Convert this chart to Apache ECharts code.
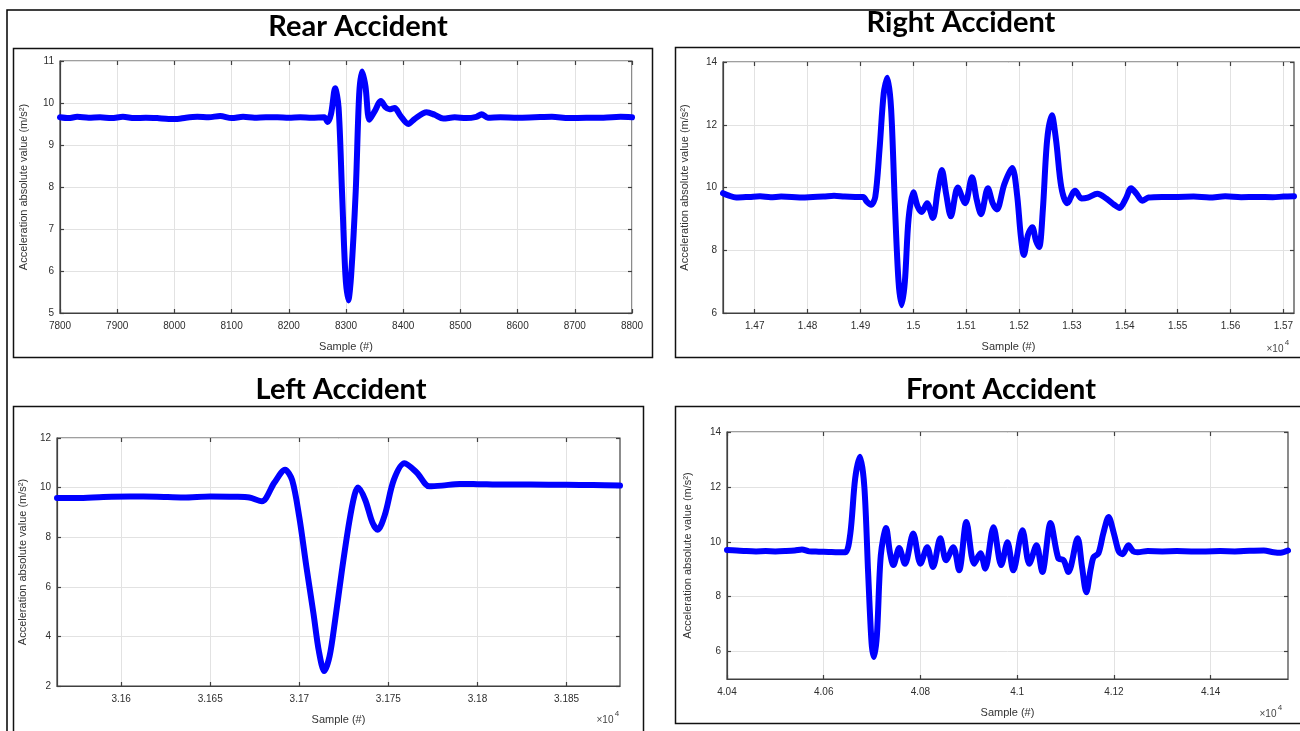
<!DOCTYPE html>
<html><head><meta charset="utf-8">
<script src="https://cdn.jsdelivr.net/npm/echarts@6/dist/echarts.min.js"></script>
<style>html,body{margin:0;padding:0;background:#fff}#c{width:1300px;height:731px}</style>
</head><body><div id="c"></div>
<script>
// ---- data ----
const titles = ['Rear Accident', 'Right Accident', 'Left Accident', 'Front Accident'];
const yName = 'Acceleration absolute value (m/s²)';
const xName = 'Sample (#)';

const rearSamples = [7800,7815,7830,7850,7870,7890,7910,7930,7950,7970,7990,8005,8020,8040,8060,8080,8100,8120,8140,8160,8180,8200,8220,8240,8262,8268,8274,8281,8287,8293,8299,8304,8309,8317,8323,8328,8334,8341,8350,8361,8369,8376,8385,8395,8409,8420,8441,8455,8470,8490,8510,8528,8537,8548,8570,8600,8630,8660,8690,8720,8750,8780,8800];
const rearValues  = [9.66,9.64,9.67,9.65,9.66,9.64,9.67,9.64,9.65,9.64,9.62,9.62,9.65,9.67,9.66,9.69,9.64,9.67,9.65,9.66,9.66,9.65,9.66,9.65,9.66,9.55,9.75,10.35,9.9,7.9,5.9,5.3,5.9,7.9,10.2,10.75,10.4,9.6,9.8,10.05,9.9,9.85,9.88,9.7,9.5,9.62,9.78,9.72,9.63,9.66,9.64,9.67,9.73,9.65,9.66,9.65,9.66,9.67,9.64,9.65,9.65,9.67,9.66];

const rightSamples = [14640,14650,14665,14690,14710,14730,14750,14770,14790,14810,14830,14850,14870,14890,14905,14912,14920,14928,14936,14944,14951,14958,14965,14972,14978,14984,14991,15000,15008,15016,15026,15037,15046,15054,15062,15071,15084,15098,15111,15120,15128,15141,15150,15158,15172,15187,15196,15203,15209,15217,15225,15232,15238,15245,15253,15262,15270,15280,15291,15306,15318,15330,15348,15365,15380,15390,15402,15412,15422,15433,15445,15470,15500,15530,15560,15590,15620,15650,15680,15700,15720];
const rightValues  = [9.82,9.75,9.68,9.7,9.72,9.69,9.71,9.7,9.68,9.7,9.71,9.74,9.71,9.7,9.7,9.55,9.45,9.7,11.2,13.0,13.5,12.5,9.5,7.0,6.25,7.0,9.0,9.85,9.4,9.22,9.5,9.03,9.9,10.56,9.8,9.08,10.0,9.5,10.33,9.6,9.15,9.98,9.5,9.3,10.1,10.62,9.8,8.5,7.85,8.5,8.73,8.3,8.1,9.3,11.5,12.3,11.5,10.0,9.5,9.9,9.65,9.68,9.8,9.65,9.45,9.35,9.65,9.98,9.8,9.58,9.68,9.7,9.7,9.71,9.68,9.72,9.69,9.7,9.69,9.71,9.72];

const leftSamples = [31564,31575,31590,31605,31620,31635,31650,31664,31672,31679,31686,31692,31696,31700,31704,31708,31711,31714,31717,31720,31724,31728,31731,31733,31737,31741,31744,31748,31753,31759,31766,31773,31780,31790,31800,31815,31830,31850,31865,31880];
const leftValues  = [9.58,9.58,9.62,9.64,9.63,9.6,9.64,9.63,9.6,9.45,10.2,10.72,10.3,8.8,6.8,4.9,3.4,2.6,3.2,4.6,6.7,8.6,9.7,10.0,9.5,8.6,8.3,8.9,10.3,10.98,10.6,10.05,10.08,10.15,10.14,10.12,10.12,10.11,10.1,10.08];

const frontSamples = [40400,40420,40440,40460,40480,40500,40520,40540,40555,40570,40590,40610,40630,40645,40655,40665,40675,40684,40692,40699,40704,40710,40718,40729,40737,40744,40756,40768,40785,40800,40814,40826,40841,40853,40868,40880,40895,40911,40924,40934,40951,40967,40980,40992,41011,41025,41040,41052,41069,41085,41096,41106,41125,41134,41143,41152,41158,41168,41178,41189,41200,41210,41218,41230,41240,41249,41270,41300,41330,41360,41390,41420,41450,41480,41510,41530,41545,41560];
const frontValues  = [9.7,9.68,9.66,9.65,9.66,9.65,9.66,9.68,9.72,9.65,9.64,9.63,9.62,9.62,10.3,12.3,13.1,12.0,8.8,6.3,5.8,6.6,9.5,10.5,9.6,9.15,9.77,9.2,10.3,9.2,9.8,9.08,10.13,9.33,9.8,8.96,10.72,9.2,9.58,9.02,10.53,9.15,9.98,8.96,10.42,9.2,9.87,8.9,10.68,9.4,9.33,8.9,10.13,9.1,8.16,9.0,9.44,9.58,10.3,10.9,10.3,9.65,9.55,9.87,9.65,9.62,9.66,9.65,9.66,9.65,9.65,9.66,9.65,9.67,9.68,9.62,9.6,9.68];

const rearXTicks  = [7800,7900,8000,8100,8200,8300,8400,8500,8600,8700,8800];
const rearYTicks  = [5,6,7,8,9,10,11];
const rightXTicks = [14700,14800,14900,15000,15100,15200,15300,15400,15500,15600,15700];
const rightYTicks = [6,8,10,12,14];
const leftXTicks  = [31600,31650,31700,31750,31800,31850];
const leftYTicks  = [2,4,6,8,10,12];
const frontXTicks = [40400,40600,40800,41000,41200,41400];
const frontYTicks = [6,8,10,12,14];

// ---- layout ----
const panels = [
  {samples: rearSamples,  values: rearValues,  xT: rearXTicks,  yT: rearYTicks,  xr:[7800,8800],   yr:[5,11], grid:{left:60, top:61, width:572, height:252}, scaled:false, yGap:31, title:[358,27], frame:[13.5,48.5,639,309]},
  {samples: rightSamples, values: rightValues, xT: rightXTicks, yT: rightYTicks, xr:[14640,15720], yr:[6,14], grid:{left:723, top:62, width:571, height:251}, scaled:true, yGap:33, title:[961,23], frame:[675.5,47.5,640,310], mult:[1275,349]},
  {samples: leftSamples,  values: leftValues,  xT: leftXTicks,  yT: leftYTicks,  xr:[31564,31880], yr:[2,12], grid:{left:57, top:438, width:563, height:248}, scaled:true, yGap:29, title:[341,390], frame:[13.5,406.5,630,340], mult:[605,720]},
  {samples: frontSamples, values: frontValues, xT: frontXTicks, yT: frontYTicks, xr:[40400,41560], yr:[5,14], grid:{left:727, top:432, width:561, height:247}, scaled:true, yGap:34, title:[1001,390], frame:[675.5,406.5,640,317], mult:[1268,714]}
];

const axisColor = '#404040';
const labelFont = {fontFamily:'Liberation Sans, Arial, sans-serif', fontSize:10, color:'#2e2e2e'};

const grid = [], xAxis = [], yAxis = [], series = [], graphic = [];
graphic.push({type:'rect', shape:{x:7, y:10, width:1400, height:900}, style:{fill:'none', stroke:'#000', lineWidth:1.5}, z:0});
panels.forEach((p, i) => {
  grid.push(Object.assign({show:true, borderColor:axisColor, borderWidth:1.2, backgroundColor:'#fff'}, p.grid));
  const fmt = p.scaled ? (v => String(parseFloat((v/10000).toFixed(4)))) : (v => String(v));
  xAxis.push({type:'value', gridIndex:i, min:p.xr[0], max:p.xr[1], position:'bottom',
    name:xName, nameLocation:'middle', nameGap:28,
    nameTextStyle:{fontFamily:'Liberation Sans, Arial, sans-serif', fontSize:11, color:'#333'},
    axisLine:{show:true, lineStyle:{color:axisColor, width:1.2}},
    axisTick:{show:true, inside:true, length:4, customValues:p.xT, lineStyle:{color:axisColor, width:1.2}},
    axisLabel:Object.assign({show:true, margin:8, customValues:p.xT, formatter:fmt}, labelFont),
    splitLine:{show:true, lineStyle:{color:'#e2e2e2', width:1}}
  });
  xAxis.push({type:'value', gridIndex:i, min:p.xr[0], max:p.xr[1], position:'top',
    axisLine:{show:false}, axisLabel:{show:false}, splitLine:{show:false},
    axisTick:{show:true, inside:true, length:4, customValues:p.xT, lineStyle:{color:axisColor, width:1.2}}
  });
  yAxis.push({type:'value', gridIndex:i, min:p.yr[0], max:p.yr[1], position:'left',
    name:yName, nameLocation:'middle', nameGap:p.yGap,
    nameTextStyle:{fontFamily:'Liberation Sans, Arial, sans-serif', fontSize:11, color:'#333'},
    axisLine:{show:true, lineStyle:{color:axisColor, width:1.2}},
    axisTick:{show:true, inside:true, length:4, customValues:p.yT, lineStyle:{color:axisColor, width:1.2}},
    axisLabel:Object.assign({show:true, margin:6, customValues:p.yT}, labelFont),
    splitLine:{show:true, lineStyle:{color:'#e2e2e2', width:1}}
  });
  yAxis.push({type:'value', gridIndex:i, min:p.yr[0], max:p.yr[1], position:'right',
    axisLine:{show:false}, axisLabel:{show:false}, splitLine:{show:false},
    axisTick:{show:true, inside:true, length:4, customValues:p.yT, lineStyle:{color:axisColor, width:1.2}}
  });
  series.push({type:'line', xAxisIndex:2*i, yAxisIndex:2*i, showSymbol:false, symbol:'none', smooth:0.3,
    data:p.samples.map((s, k) => [s, p.values[k]]),
    lineStyle:{color:'#0000ff', width:6, cap:'round', join:'round'}, clip:true, z:5});
  graphic.push({type:'rect', shape:{x:p.frame[0], y:p.frame[1], width:p.frame[2], height:p.frame[3]},
    style:{fill:'none', stroke:'#111', lineWidth:1.5}, z:1});
  graphic.push({type:'text', x:p.title[0], y:p.title[1], z:2,
    style:{text:titles[i], font:'bold 29px Lato, "Open Sans", sans-serif', fill:'#000', textAlign:'center', textVerticalAlign:'middle'}});
  if (p.mult) {
    graphic.push({type:'text', x:p.mult[0], y:p.mult[1], z:2,
      style:{text:'×10', font:'10px "Liberation Sans", Arial, sans-serif', fill:'#444', textAlign:'center', textVerticalAlign:'middle'}});
    graphic.push({type:'text', x:p.mult[0]+12, y:p.mult[1]-6, z:2,
      style:{text:'4', font:'8px "Liberation Sans", Arial, sans-serif', fill:'#444', textAlign:'center', textVerticalAlign:'middle'}});
  }
});

const chart = echarts.init(document.getElementById('c'), null, {renderer:'canvas'});
chart.setOption({animation:false, backgroundColor:'#fff', grid, xAxis, yAxis, series, graphic});
</script>
</body></html>
